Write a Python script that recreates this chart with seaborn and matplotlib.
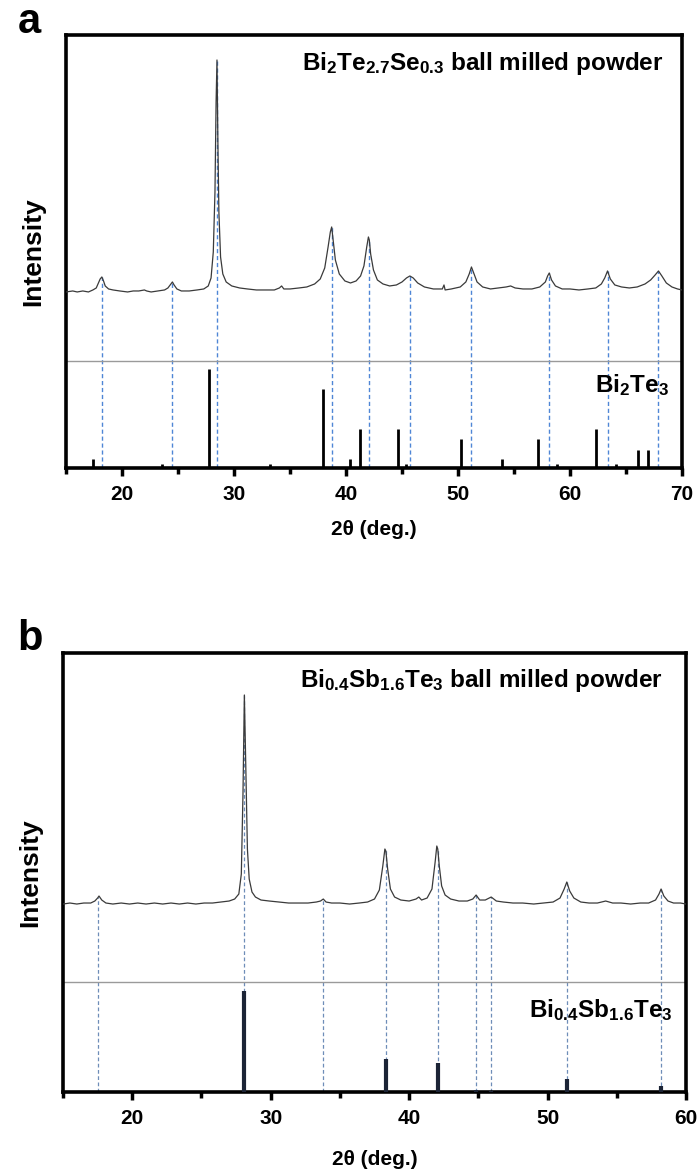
import numpy as np
import pandas as pd
import matplotlib
matplotlib.use("Agg")
import matplotlib.pyplot as plt
import seaborn as sns

sns.set_theme(style="ticks")
plt.rcParams['font.family'] = ['Liberation Sans', 'DejaVu Sans']
plt.rcParams['font.weight'] = 'bold'
plt.rcParams['text.color'] = 'black'
plt.rcParams['axes.labelcolor'] = 'black'
plt.rcParams['xtick.color'] = 'black'
plt.rcParams['mathtext.fontset'] = 'custom'
plt.rcParams['mathtext.rm'] = 'Liberation Sans:bold'
plt.rcParams['mathtext.bf'] = 'Liberation Sans:bold'
plt.rcParams['mathtext.it'] = 'Liberation Sans:bold'

# ---- panel a: Bi2Te2.7Se0.3 ball milled powder (trace, height above background) ----
a_tt = [15.0, 15.6, 16.0, 16.5, 17.0, 17.4, 17.7, 17.9, 18.05, 18.2, 18.35, 18.5, 18.8, 19.2, 19.8, 20.5, 21.0,
        21.5, 22.0, 22.2, 22.6, 23.2, 23.8, 24.1, 24.3, 24.5, 24.65, 24.9, 25.3, 26.0, 26.7, 27.3, 27.7,
        27.95, 28.15, 28.3, 28.4, 28.48, 28.56, 28.65, 28.8, 29.0, 29.3, 29.8, 30.5, 31.2, 32.0, 32.8,
        33.6, 34.05, 34.25, 34.45, 35.0, 35.8, 36.5, 37.2, 37.7, 38.1, 38.4, 38.6, 38.72, 38.85, 39.05,
        39.4, 39.9, 40.4, 40.9, 41.3, 41.6, 41.85, 42.0, 42.08, 42.2, 42.45, 42.8, 43.3, 43.9, 44.5,
        45.0, 45.4, 45.7, 46.0, 46.4, 47.0, 47.8, 48.6, 48.75, 48.85, 49.4, 50.2, 50.7, 51.0, 51.2,
        51.4, 51.7, 52.2, 52.9, 53.6, 54.3, 54.7, 55.1, 55.8, 56.6, 57.3, 57.8, 58.0, 58.15, 58.35,
        58.7, 59.3, 60.0, 60.8, 61.6, 62.3, 62.8, 63.1, 63.35, 63.6, 64.0, 64.6, 65.3, 66.0, 66.7,
        67.2, 67.6, 67.9, 68.2, 68.6, 69.1, 69.6, 70.0]
a_int = [0, 1, 0, 1, 0, 2, 4, 9, 13, 15, 11, 6, 3, 2, 1, 0, 1,
         1, 2, 1, 0, 1, 2, 4, 7, 10, 7, 3, 1, 1, 2, 3, 6,
         14, 40, 100, 190, 232, 150, 80, 35, 18, 10, 6, 4, 3, 2, 2,
         2, 4, 6, 3, 3, 4, 5, 8, 13, 24, 45, 60, 65, 52, 32,
         18, 11, 9, 11, 16, 26, 45, 55, 52, 38, 22, 12, 8, 6, 7,
         10, 14, 16, 14, 9, 5, 3, 3, 7, 2, 3, 5, 10, 18, 25,
         19, 10, 5, 3, 4, 5, 6, 4, 3, 3, 5, 10, 16, 19, 12,
         6, 3, 3, 2, 3, 4, 8, 14, 21, 13, 7, 5, 4, 5, 8,
         12, 17, 21, 16, 9, 5, 3, 2]
a_offset = 176

# Bi2Te3 reference sticks (relative intensity)
a_ref_tt = [17.4, 23.56, 27.75, 33.2, 37.96, 40.4, 41.27, 44.6, 45.35, 50.3, 53.96, 57.16, 58.87,
            62.36, 64.1, 66.07, 66.95]
a_ref_int = [9, 4, 99, 4, 79, 9, 39, 39, 4, 29, 9, 29, 4, 39, 4, 18, 18]

# peak guide positions
a_peaks = [18.2, 24.5, 28.48, 38.72, 42.07, 45.7, 51.2, 58.15, 63.35, 67.9]

# ---- panel b: Bi0.4Sb1.6Te3 ball milled powder ----
b_tt = [15.0, 15.5, 16.0, 16.5, 17.0, 17.3, 17.5, 17.6, 17.8, 18.1, 18.6, 19.2, 19.8, 20.4, 21.0,
        21.6, 22.2, 22.8, 23.4, 24.0, 24.6, 25.2, 25.8, 26.4, 27.0, 27.4, 27.7, 27.88, 28.0, 28.1,
        28.2, 28.32, 28.45, 28.65, 28.9, 29.3, 29.9, 30.6, 31.3, 32.0, 32.7, 33.3, 33.6, 33.8, 34.0,
        34.4, 35.0, 35.7, 36.4, 37.0, 37.5, 37.85, 38.1, 38.25, 38.32, 38.45, 38.65, 38.95, 39.4,
        40.0, 40.5, 40.7, 40.9, 41.3, 41.65, 41.88, 42.0, 42.07, 42.18, 42.35, 42.6, 43.0, 43.6,
        44.2, 44.6, 44.84, 45.1, 45.5, 45.93, 46.3, 46.8, 47.5, 48.2, 49.0, 49.7, 50.4, 50.9,
        51.2, 51.39, 51.6, 51.9, 52.4, 53.0, 53.6, 54.2, 54.7, 55.3, 56.0, 56.7, 57.3, 57.8, 58.05,
        58.2, 58.4, 58.7, 59.1, 59.6, 60.0]
b_int = [0, 1, 0, 1, 1, 3, 6, 8, 4, 1, 0, 1, 0, 1, 0,
         1, 0, 1, 0, 1, 0, 1, 1, 2, 3, 5, 10, 30, 110, 209,
         140, 55, 25, 12, 7, 4, 3, 2, 1, 1, 1, 2, 3, 5, 2,
         1, 1, 0, 1, 2, 5, 14, 38, 55, 53, 35, 15, 7, 4,
         3, 5, 7, 4, 6, 15, 42, 58, 55, 38, 18, 9, 5, 3,
         3, 5, 9, 4, 4, 7, 3, 2, 1, 1, 0, 1, 2, 6,
         15, 22, 13, 6, 2, 1, 1, 3, 1, 1, 0, 1, 1, 4, 10,
         15, 8, 3, 1, 1, 0]
b_offset = 188

b_ref_tt = [17.55, 28.1, 33.8, 38.3, 42.07, 44.84, 45.93, 51.39, 58.2]
b_ref_int = [0.5, 101, 0.5, 33, 29, 2, 1.5, 13, 6]
b_peaks = [17.55, 28.1, 33.8, 38.3, 42.07, 44.84, 45.93, 51.39, 58.2]

fig = plt.figure(figsize=(7.0, 11.74), dpi=100)
ax_a = fig.add_axes([0.0943, 0.6014, 0.88, 0.3688])
ax_b = fig.add_axes([0.09, 0.0698, 0.89, 0.374])


def draw_panel(ax, tt, inten, offset, ref_tt, ref_int, peaks, ref_line, xlim, ylim,
               stick_color, stick_lw, guide_color, guide_lw, xpad):
    df = pd.DataFrame({"tt": tt, "y": np.array(inten) + offset})
    # guides from the axis up to the peak
    peak_tops = np.interp(peaks, tt, np.array(inten) + offset)
    ax.vlines(peaks, 0, peak_tops, colors=guide_color, linestyles=(0, (3, 2)), lw=guide_lw, zorder=1)
    sns.lineplot(data=df, x="tt", y="y", ax=ax, color="#3a3a3a", lw=0.9, sort=False, zorder=3)
    ax.axhline(ref_line, color="#9a9a9a", lw=1.0, zorder=2)
    ax.vlines(ref_tt, 0, ref_int, colors=stick_color, lw=stick_lw, zorder=3)
    ax.set_xlim(*xlim)
    ax.set_ylim(*ylim)
    ax.set_yticks([])
    ax.set_xlabel("2θ (deg.)", fontsize=15, fontweight="bold", labelpad=xpad)
    ax.set_ylabel("Intensity", fontsize=19, fontweight="bold", labelpad=15)
    ax.xaxis.set_major_locator(plt.MultipleLocator(10))
    ax.xaxis.set_minor_locator(plt.MultipleLocator(5))
    ax.tick_params(axis="x", which="major", direction="out", length=6, width=2.5,
                   labelsize=15, pad=6)
    ax.tick_params(axis="x", which="minor", direction="out", length=4, width=2.5)
    for lab in ax.get_xticklabels():
        lab.set_fontweight("bold")
    for s in ax.spines.values():
        s.set_linewidth(2.6)
        s.set_color("black")
        s.set_visible(True)


draw_panel(ax_a, a_tt, a_int, a_offset, a_ref_tt, a_ref_int, a_peaks, 107, (15, 70), (0, 433),
           "black", 2.0, "#4f86d6", 1.0, 12)
draw_panel(ax_b, b_tt, b_int, b_offset, b_ref_tt, b_ref_int, b_peaks, 110, (15, 60), (0, 439),
           "#1c2436", 3.0, "#6e8db8", 0.9, 16)

ax_a.text(0.969, 0.935, "Bi$_2$Te$_{2.7}$Se$_{0.3}$ ball milled powder", transform=ax_a.transAxes,
          ha="right", va="center", fontsize=17.5, fontweight="bold")
ax_a.text(0.979, 0.192, "Bi$_2$Te$_3$", transform=ax_a.transAxes,
          ha="right", va="center", fontsize=17.5, fontweight="bold")
ax_b.text(0.962, 0.938, "Bi$_{0.4}$Sb$_{1.6}$Te$_3$ ball milled powder", transform=ax_b.transAxes,
          ha="right", va="center", fontsize=17.5, fontweight="bold")
ax_b.text(0.979, 0.187, "Bi$_{0.4}$Sb$_{1.6}$Te$_3$", transform=ax_b.transAxes,
          ha="right", va="center", fontsize=17.5, fontweight="bold")

fig.text(0.025, 0.9719, "a", fontsize=30, fontweight="bold", va="baseline", ha="left")
fig.text(0.025, 0.4463, "b", fontsize=30, fontweight="bold", va="baseline", ha="left")

fig.savefig("out.png", dpi=100)
